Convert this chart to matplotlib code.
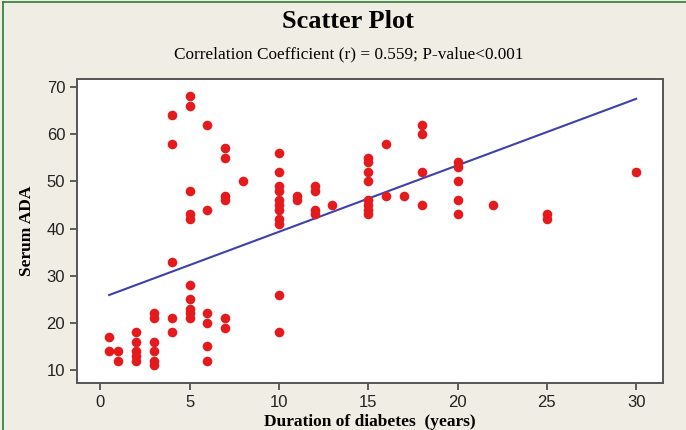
import matplotlib.pyplot as plt
from matplotlib.lines import Line2D

# duration of diabetes (years) and serum ADA
duration = [0.5, 0.5, 1, 1,
            2, 2, 2, 2, 2,
            3, 3, 3, 3, 3, 3,
            4, 4, 4, 4, 4,
            5, 5, 5, 5, 5, 5, 5, 5, 5, 5,
            6, 6, 6, 6, 6, 6,
            7, 7, 7, 7, 7, 7,
            8,
            10, 10, 10, 10, 10, 10, 10, 10, 10, 10, 10,
            11, 11,
            12, 12, 12, 12,
            13,
            15, 15, 15, 15, 15, 15, 15, 15,
            16, 16, 17,
            18, 18, 18, 18,
            20, 20, 20, 20, 20,
            22, 25, 25, 30]
ada = [17, 14, 14, 12,
       18, 16, 14, 13, 12,
       22, 21, 16, 14, 12, 11,
       64, 58, 33, 21, 18,
       68, 66, 48, 43, 42, 28, 25, 23, 22, 21,
       62, 44, 22, 20, 15, 12,
       57, 55, 47, 46, 21, 19,
       50,
       56, 52, 49, 48, 46, 45, 44, 42, 41, 26, 18,
       47, 46,
       49, 48, 44, 43,
       45,
       55, 54, 52, 50, 46, 45, 44, 43,
       58, 47, 47,
       62, 60, 52, 45,
       54, 53, 50, 46, 43,
       45, 43, 42, 52]

# fitted regression line
fit_x = [0.5, 30]
fit_y = [25.9, 67.5]

xticks = [0, 5, 10, 15, 20, 25, 30]
yticks = [10, 20, 30, 40, 50, 60, 70]

bg = "#f0eee4"
fig = plt.figure(figsize=(6.86, 4.30), dpi=100, facecolor=bg)
ax = fig.add_axes([0.1122, 0.1093, 0.8543, 0.707])
ax.set_facecolor("white")

ax.scatter(duration, ada, s=48, color="#e41a1c", zorder=3, linewidths=0)
ax.plot(fit_x, fit_y, color="#3f3fb0", lw=1.5, zorder=2)

ax.set_xlim(-1.3, 31.5)
ax.set_ylim(7.25, 71.7)
ax.set_xticks(xticks)
ax.set_yticks(yticks)

for s in ax.spines.values():
    s.set_color("#555555")
    s.set_linewidth(1.4)
ax.tick_params(colors="#444444", length=5, width=1.2, labelsize=12,
               labelcolor="#222222")
for lab in ax.get_xticklabels() + ax.get_yticklabels():
    lab.set_family("Liberation Sans")

serif = "Liberation Serif"
ax.set_xlabel("Duration of diabetes  (years)", family=serif, weight="bold",
              fontsize=12.5, labelpad=3)
ax.set_ylabel("Serum ADA", family=serif, weight="bold", fontsize=12.5,
              labelpad=8)

fig.text(0.507, 0.949, "Scatter Plot", family=serif, weight="bold",
         fontsize=19, ha="center", va="center")
fig.text(0.508, 0.874, "Correlation Coefficient (r) = 0.559; P-value<0.001",
         family=serif, fontsize=12.4, ha="center", va="center")

# green frame at the top and left edges of the picture
fig.add_artist(Line2D([0.004, 0.004], [0, 0.996], color="#2e7d32", lw=1.2,
                      transform=fig.transFigure))
fig.add_artist(Line2D([0.004, 1], [0.996, 0.996], color="#2e7d32", lw=1.2,
                      transform=fig.transFigure))

fig.savefig("out.png", dpi=100, facecolor=bg)
